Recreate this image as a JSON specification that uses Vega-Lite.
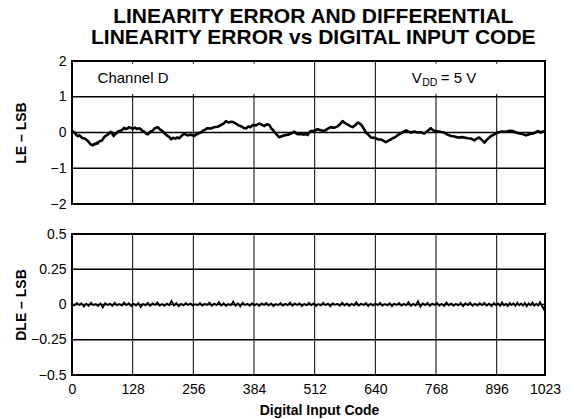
{
  "$schema": "https://vega.github.io/schema/vega-lite/v6.json",
  "background": "white",
  "padding": {"left": 12, "top": 6, "right": 5, "bottom": 0},
  "title": {
    "text": ["LINEARITY ERROR AND DIFFERENTIAL", "LINEARITY ERROR vs DIGITAL INPUT CODE"],
    "font": "Liberation Sans",
    "fontSize": 21,
    "fontWeight": "bold",
    "color": "black",
    "anchor": "middle",
    "lineHeight": 21,
    "offset": 5,
    "dx": 26
  },
  "config": {
    "font": "Liberation Sans",
    "view": {"stroke": "black", "strokeWidth": 2},
    "axis": {
      "grid": false,
      "domain": false,
      "ticks": false,
      "labelColor": "black",
      "labelFont": "Liberation Sans",
      "labelFontSize": 14,
      "labelOverlap": false,
      "titleColor": "black",
      "titleFont": "Liberation Sans",
      "titleFontSize": 14,
      "titleFontWeight": "bold"
    }
  },
  "bounds": "flush",
  "spacing": 30,
  "vconcat": [
    {
      "width": 473,
      "height": 143,
      "layer": [
        {
          "data": {"values": [{"code": 128}, {"code": 256}, {"code": 384}, {"code": 512}, {"code": 640}, {"code": 768}, {"code": 896}]},
          "mark": {"type": "rule", "color": "black", "strokeWidth": 1},
          "encoding": {
            "x": {"field": "code", "type": "quantitative", "title": null,
                  "scale": {"domain": [0, 896, 1023], "range": [0, 424.7, 473], "nice": false, "zero": false},
                  "axis": null}
          }
        },
        {
          "data": {"values": [{"v": -1}, {"v": 0}, {"v": 1}]},
          "mark": {"type": "rule", "color": "black", "strokeWidth": 1.5},
          "encoding": {
            "y": {"field": "v", "type": "quantitative", "title": "LE – LSB",
                  "scale": {"domain": [-2, 2], "nice": false, "zero": false},
                  "axis": {"values": [-2, -1, 0, 1, 2], "tickCount": 5, "labelPadding": 6, "titleX": -47, "titleBaseline": "alphabetic",
                           "labelExpr": "replace(toString(datum.value), '-', '−')"}}
          }
        },
        {
          "data": {"values": [
            {"code": 19, "code2": 392, "v": 1.08, "v2": 1.92},
            {"code": 652, "code2": 902, "v": 1.08, "v2": 1.92}
          ]},
          "mark": {"type": "rect", "fill": "white", "stroke": null},
          "encoding": {
            "x": {"field": "code", "type": "quantitative", "title": null, "axis": null},
            "x2": {"field": "code2"},
            "y": {"field": "v", "type": "quantitative", "title": "LE – LSB"},
            "y2": {"field": "v2"}
          }
        },
        {
          "data": {"values": [
            {"code": 0, "v": 0.03}, {"code": 1, "v": 0.04}, {"code": 3, "v": 0.0}, {"code": 6, "v": 0.0},
            {"code": 9, "v": -0.07}, {"code": 12, "v": -0.1}, {"code": 15, "v": -0.08}, {"code": 19, "v": -0.12},
            {"code": 22, "v": -0.16}, {"code": 26, "v": -0.16}, {"code": 30, "v": -0.2}, {"code": 35, "v": -0.26},
            {"code": 39, "v": -0.33}, {"code": 44, "v": -0.36}, {"code": 47, "v": -0.32}, {"code": 49, "v": -0.33},
            {"code": 52, "v": -0.29}, {"code": 54, "v": -0.31}, {"code": 57, "v": -0.25}, {"code": 60, "v": -0.24},
            {"code": 62, "v": -0.23}, {"code": 65, "v": -0.19}, {"code": 69, "v": -0.11}, {"code": 73, "v": -0.08},
            {"code": 77, "v": -0.04}, {"code": 82, "v": 0.02}, {"code": 85, "v": -0.03}, {"code": 88, "v": -0.1},
            {"code": 91, "v": -0.04}, {"code": 94, "v": -0.02}, {"code": 97, "v": 0.03}, {"code": 100, "v": 0.04},
            {"code": 105, "v": 0.06}, {"code": 110, "v": 0.13}, {"code": 113, "v": 0.1}, {"code": 117, "v": 0.11},
            {"code": 120, "v": 0.15}, {"code": 124, "v": 0.13}, {"code": 128, "v": 0.1}, {"code": 133, "v": 0.14},
            {"code": 137, "v": 0.1}, {"code": 142, "v": 0.12}, {"code": 146, "v": 0.08}, {"code": 149, "v": 0.04},
            {"code": 152, "v": 0.03}, {"code": 155, "v": -0.01}, {"code": 157, "v": -0.04}, {"code": 160, "v": -0.05},
            {"code": 165, "v": 0.02}, {"code": 170, "v": 0.05}, {"code": 175, "v": 0.12}, {"code": 181, "v": 0.15},
            {"code": 186, "v": 0.08}, {"code": 191, "v": 0.04}, {"code": 195, "v": -0.02}, {"code": 200, "v": -0.08},
            {"code": 205, "v": -0.12}, {"code": 209, "v": -0.19}, {"code": 213, "v": -0.15}, {"code": 218, "v": -0.17},
            {"code": 222, "v": -0.14}, {"code": 226, "v": -0.16}, {"code": 231, "v": -0.1}, {"code": 237, "v": -0.03},
            {"code": 240, "v": -0.06}, {"code": 244, "v": -0.08}, {"code": 250, "v": -0.06}, {"code": 258, "v": -0.1},
            {"code": 261, "v": -0.06}, {"code": 265, "v": -0.04}, {"code": 268, "v": -0.01}, {"code": 272, "v": 0.0},
            {"code": 276, "v": 0.05}, {"code": 280, "v": 0.07}, {"code": 283, "v": 0.1}, {"code": 286, "v": 0.12},
            {"code": 293, "v": 0.11}, {"code": 300, "v": 0.15}, {"code": 307, "v": 0.16}, {"code": 314, "v": 0.21},
            {"code": 319, "v": 0.24}, {"code": 325, "v": 0.32}, {"code": 330, "v": 0.28}, {"code": 335, "v": 0.3},
            {"code": 340, "v": 0.29}, {"code": 346, "v": 0.25}, {"code": 350, "v": 0.21}, {"code": 355, "v": 0.18},
            {"code": 359, "v": 0.16}, {"code": 363, "v": 0.12}, {"code": 368, "v": 0.12}, {"code": 372, "v": 0.17},
            {"code": 377, "v": 0.15}, {"code": 381, "v": 0.21}, {"code": 388, "v": 0.2}, {"code": 395, "v": 0.25},
            {"code": 400, "v": 0.22}, {"code": 406, "v": 0.18}, {"code": 410, "v": 0.22}, {"code": 413, "v": 0.23},
            {"code": 417, "v": 0.2}, {"code": 420, "v": 0.12}, {"code": 424, "v": 0.07}, {"code": 428, "v": 0.0},
            {"code": 432, "v": -0.06}, {"code": 437, "v": -0.13}, {"code": 444, "v": -0.1}, {"code": 451, "v": -0.07},
            {"code": 457, "v": -0.06}, {"code": 463, "v": -0.02}, {"code": 469, "v": 0.02}, {"code": 472, "v": -0.01},
            {"code": 476, "v": -0.05}, {"code": 483, "v": -0.04}, {"code": 490, "v": -0.06}, {"code": 494, "v": -0.04},
            {"code": 497, "v": -0.07}, {"code": 500, "v": -0.01}, {"code": 504, "v": 0.04}, {"code": 511, "v": 0.05},
            {"code": 518, "v": 0.09}, {"code": 525, "v": 0.06}, {"code": 532, "v": 0.04}, {"code": 539, "v": 0.1},
            {"code": 546, "v": 0.15}, {"code": 553, "v": 0.13}, {"code": 561, "v": 0.18}, {"code": 566, "v": 0.24},
            {"code": 571, "v": 0.32}, {"code": 576, "v": 0.26}, {"code": 582, "v": 0.22}, {"code": 587, "v": 0.18},
            {"code": 592, "v": 0.15}, {"code": 598, "v": 0.21}, {"code": 603, "v": 0.28}, {"code": 607, "v": 0.25},
            {"code": 610, "v": 0.22}, {"code": 615, "v": 0.12}, {"code": 620, "v": 0.0}, {"code": 625, "v": -0.06},
            {"code": 631, "v": -0.14}, {"code": 638, "v": -0.15}, {"code": 645, "v": -0.19}, {"code": 653, "v": -0.2},
            {"code": 662, "v": -0.27}, {"code": 670, "v": -0.21}, {"code": 677, "v": -0.16}, {"code": 683, "v": -0.12},
            {"code": 690, "v": -0.05}, {"code": 697, "v": 0.0}, {"code": 705, "v": 0.06}, {"code": 710, "v": 0.02},
            {"code": 715, "v": 0.0}, {"code": 722, "v": 0.03}, {"code": 729, "v": 0.0}, {"code": 736, "v": 0.01},
            {"code": 743, "v": -0.03}, {"code": 750, "v": 0.04}, {"code": 757, "v": 0.12}, {"code": 762, "v": 0.06},
            {"code": 768, "v": 0.04}, {"code": 776, "v": 0.02}, {"code": 785, "v": 0.0}, {"code": 792, "v": -0.06},
            {"code": 800, "v": -0.1}, {"code": 807, "v": -0.11}, {"code": 814, "v": -0.14}, {"code": 824, "v": -0.13},
            {"code": 835, "v": -0.16}, {"code": 842, "v": -0.17}, {"code": 849, "v": -0.22}, {"code": 854, "v": -0.17},
            {"code": 859, "v": -0.14}, {"code": 864, "v": -0.2}, {"code": 870, "v": -0.28}, {"code": 877, "v": -0.18},
            {"code": 884, "v": -0.1}, {"code": 891, "v": -0.05}, {"code": 899, "v": 0.0}, {"code": 910, "v": 0.03},
            {"code": 921, "v": 0.02}, {"code": 930, "v": 0.05}, {"code": 938, "v": 0.04}, {"code": 947, "v": 0.0},
            {"code": 956, "v": -0.03}, {"code": 964, "v": -0.04}, {"code": 973, "v": -0.08}, {"code": 982, "v": -0.05},
            {"code": 991, "v": -0.03}, {"code": 998, "v": 0.0}, {"code": 1004, "v": 0.04}, {"code": 1008, "v": 0.02},
            {"code": 1012, "v": 0.0}, {"code": 1018, "v": 0.03}, {"code": 1023, "v": 0.02}
          ]},
          "mark": {"type": "line", "color": "black", "strokeWidth": 2.6, "strokeJoin": "round"},
          "encoding": {
            "x": {"field": "code", "type": "quantitative", "title": null, "axis": null},
            "y": {"field": "v", "type": "quantitative", "title": "LE – LSB"}
          }
        },
        {
          "data": {"values": [{"code": 54, "v": 1.39, "label": "Channel D"}]},
          "mark": {"type": "text", "align": "left", "baseline": "alphabetic", "fontSize": 15, "color": "black"},
          "encoding": {
            "x": {"field": "code", "type": "quantitative", "title": null, "axis": null},
            "y": {"field": "v", "type": "quantitative", "title": "LE – LSB"},
            "text": {"field": "label"}
          }
        },
        {
          "data": {"values": [{"code": 717, "v": 1.39, "label": "V"}, {"code": 778, "v": 1.39, "label": "= 5 V"}]},
          "mark": {"type": "text", "align": "left", "baseline": "alphabetic", "fontSize": 15, "color": "black"},
          "encoding": {
            "x": {"field": "code", "type": "quantitative", "title": null, "axis": null},
            "y": {"field": "v", "type": "quantitative", "title": "LE – LSB"},
            "text": {"field": "label"}
          }
        },
        {
          "data": {"values": [{"code": 739, "v": 1.3, "label": "DD"}]},
          "mark": {"type": "text", "align": "left", "baseline": "alphabetic", "fontSize": 10.5, "color": "black"},
          "encoding": {
            "x": {"field": "code", "type": "quantitative", "title": null, "axis": null},
            "y": {"field": "v", "type": "quantitative", "title": "LE – LSB"},
            "text": {"field": "label"}
          }
        }
      ]
    },
    {
      "width": 473,
      "height": 141,
      "layer": [
        {
          "data": {"values": [{"code": 128}, {"code": 256}, {"code": 384}, {"code": 512}, {"code": 640}, {"code": 768}, {"code": 896}]},
          "mark": {"type": "rule", "color": "black", "strokeWidth": 1},
          "encoding": {
            "x": {"field": "code", "type": "quantitative", "title": "Digital Input Code",
                  "scale": {"domain": [0, 896, 1023], "range": [0, 424.7, 473], "nice": false, "zero": false},
                  "axis": {"values": [0, 128, 256, 384, 512, 640, 768, 896, 1023], "tickCount": 9, "format": "d",
                           "labelPadding": 7, "labelDx": 3, "labelFlush": false, "titlePadding": 7, "titleX": 247}}
          }
        },
        {
          "data": {"values": [{"v": -0.25}, {"v": 0}, {"v": 0.25}]},
          "mark": {"type": "rule", "color": "black", "strokeWidth": 1.5},
          "encoding": {
            "y": {"field": "v", "type": "quantitative", "title": "DLE – LSB",
                  "scale": {"domain": [-0.5, 0.5], "nice": false, "zero": false},
                  "axis": {"values": [-0.5, -0.25, 0, 0.25, 0.5], "tickCount": 5, "labelPadding": 6, "titleX": -47, "titleBaseline": "alphabetic",
                           "labelExpr": "replace(toString(datum.value), '-', '−')"}}
          }
        },
        {
          "data": {"values": [
            {"code": 0, "v": 0.005}, {"code": 5, "v": -0.008}, {"code": 10, "v": 0.012}, {"code": 15, "v": -0.003},
            {"code": 20, "v": 0.009}, {"code": 25, "v": -0.015}, {"code": 30, "v": 0.006}, {"code": 35, "v": -0.01},
            {"code": 40, "v": 0.014}, {"code": 45, "v": -0.006}, {"code": 50, "v": 0.003}, {"code": 55, "v": -0.012},
            {"code": 60, "v": 0.008}, {"code": 65, "v": -0.022}, {"code": 70, "v": 0.01}, {"code": 75, "v": -0.004},
            {"code": 80, "v": 0.007}, {"code": 85, "v": -0.011}, {"code": 90, "v": 0.013}, {"code": 95, "v": -0.007},
            {"code": 100, "v": 0.004}, {"code": 105, "v": -0.009}, {"code": 110, "v": 0.016}, {"code": 115, "v": -0.005},
            {"code": 120, "v": 0.009}, {"code": 125, "v": -0.013}, {"code": 130, "v": 0.006}, {"code": 135, "v": -0.008},
            {"code": 140, "v": 0.011}, {"code": 145, "v": -0.02}, {"code": 150, "v": 0.005}, {"code": 155, "v": -0.006},
            {"code": 160, "v": 0.012}, {"code": 165, "v": -0.01}, {"code": 170, "v": 0.008}, {"code": 175, "v": -0.003},
            {"code": 180, "v": 0.015}, {"code": 185, "v": -0.009}, {"code": 190, "v": 0.004}, {"code": 195, "v": -0.012},
            {"code": 200, "v": 0.007}, {"code": 205, "v": -0.005}, {"code": 210, "v": 0.026}, {"code": 215, "v": -0.008},
            {"code": 220, "v": 0.01}, {"code": 225, "v": -0.014}, {"code": 230, "v": 0.005}, {"code": 235, "v": -0.007},
            {"code": 240, "v": 0.012}, {"code": 245, "v": -0.004}, {"code": 250, "v": 0.008}, {"code": 255, "v": -0.01},
            {"code": 260, "v": 0.003}, {"code": 265, "v": -0.006}, {"code": 270, "v": 0.011}, {"code": 275, "v": -0.009},
            {"code": 280, "v": 0.006}, {"code": 285, "v": -0.003}, {"code": 290, "v": 0.014}, {"code": 295, "v": -0.011},
            {"code": 300, "v": 0.007}, {"code": 305, "v": -0.005}, {"code": 310, "v": 0.018}, {"code": 315, "v": -0.008},
            {"code": 320, "v": 0.009}, {"code": 325, "v": -0.012}, {"code": 330, "v": 0.004}, {"code": 335, "v": -0.006},
            {"code": 340, "v": 0.022}, {"code": 345, "v": -0.01}, {"code": 350, "v": 0.008}, {"code": 355, "v": -0.015},
            {"code": 360, "v": 0.013}, {"code": 365, "v": -0.004}, {"code": 370, "v": 0.006}, {"code": 375, "v": -0.009},
            {"code": 380, "v": 0.01}, {"code": 385, "v": -0.007}, {"code": 390, "v": 0.005}, {"code": 395, "v": -0.011},
            {"code": 400, "v": 0.009}, {"code": 405, "v": -0.003}, {"code": 410, "v": 0.012}, {"code": 415, "v": -0.008},
            {"code": 420, "v": 0.007}, {"code": 425, "v": -0.013}, {"code": 430, "v": 0.004}, {"code": 435, "v": -0.006},
            {"code": 440, "v": 0.011}, {"code": 445, "v": -0.009}, {"code": 450, "v": 0.006}, {"code": 455, "v": -0.005},
            {"code": 460, "v": 0.015}, {"code": 465, "v": -0.01}, {"code": 470, "v": 0.008}, {"code": 475, "v": -0.004},
            {"code": 480, "v": 0.01}, {"code": 485, "v": -0.012}, {"code": 490, "v": 0.005}, {"code": 495, "v": -0.007},
            {"code": 500, "v": 0.013}, {"code": 505, "v": -0.006}, {"code": 510, "v": 0.009}, {"code": 515, "v": -0.011},
            {"code": 520, "v": 0.004}, {"code": 525, "v": -0.008}, {"code": 530, "v": 0.012}, {"code": 535, "v": -0.005},
            {"code": 540, "v": 0.007}, {"code": 545, "v": -0.014}, {"code": 550, "v": 0.01}, {"code": 555, "v": -0.003},
            {"code": 560, "v": 0.006}, {"code": 565, "v": -0.009}, {"code": 570, "v": 0.014}, {"code": 575, "v": -0.007},
            {"code": 580, "v": 0.008}, {"code": 585, "v": -0.011}, {"code": 590, "v": 0.005}, {"code": 595, "v": -0.006},
            {"code": 600, "v": 0.016}, {"code": 605, "v": -0.009}, {"code": 610, "v": 0.007}, {"code": 615, "v": -0.004},
            {"code": 620, "v": 0.011}, {"code": 625, "v": -0.012}, {"code": 630, "v": 0.006}, {"code": 635, "v": -0.008},
            {"code": 640, "v": 0.009}, {"code": 645, "v": -0.005}, {"code": 650, "v": 0.013}, {"code": 655, "v": -0.01},
            {"code": 660, "v": 0.004}, {"code": 665, "v": -0.007}, {"code": 670, "v": 0.01}, {"code": 675, "v": -0.013},
            {"code": 680, "v": 0.007}, {"code": 685, "v": -0.004}, {"code": 690, "v": 0.012}, {"code": 695, "v": -0.009},
            {"code": 700, "v": 0.006}, {"code": 705, "v": -0.006}, {"code": 710, "v": 0.018}, {"code": 715, "v": -0.011},
            {"code": 720, "v": 0.005}, {"code": 725, "v": -0.008}, {"code": 730, "v": 0.024}, {"code": 735, "v": -0.016},
            {"code": 740, "v": 0.009}, {"code": 745, "v": -0.005}, {"code": 750, "v": 0.013}, {"code": 755, "v": -0.01},
            {"code": 760, "v": 0.007}, {"code": 765, "v": -0.003}, {"code": 770, "v": 0.011}, {"code": 775, "v": -0.009},
            {"code": 780, "v": 0.006}, {"code": 785, "v": -0.012}, {"code": 790, "v": 0.015}, {"code": 795, "v": -0.006},
            {"code": 800, "v": 0.008}, {"code": 805, "v": -0.01}, {"code": 810, "v": 0.005}, {"code": 815, "v": -0.007},
            {"code": 820, "v": 0.012}, {"code": 825, "v": -0.013}, {"code": 830, "v": 0.009}, {"code": 835, "v": -0.004},
            {"code": 840, "v": 0.014}, {"code": 845, "v": -0.011}, {"code": 850, "v": 0.006}, {"code": 855, "v": -0.008},
            {"code": 860, "v": 0.01}, {"code": 865, "v": -0.005}, {"code": 870, "v": 0.013}, {"code": 875, "v": -0.009},
            {"code": 880, "v": 0.007}, {"code": 885, "v": -0.012}, {"code": 890, "v": 0.011}, {"code": 895, "v": -0.006},
            {"code": 900, "v": 0.008}, {"code": 905, "v": -0.01}, {"code": 910, "v": 0.016}, {"code": 915, "v": -0.007},
            {"code": 920, "v": 0.005}, {"code": 925, "v": -0.013}, {"code": 930, "v": 0.012}, {"code": 935, "v": -0.004},
            {"code": 940, "v": 0.009}, {"code": 945, "v": -0.011}, {"code": 950, "v": 0.014}, {"code": 955, "v": -0.006},
            {"code": 960, "v": 0.007}, {"code": 965, "v": -0.009}, {"code": 970, "v": 0.012}, {"code": 975, "v": -0.014},
            {"code": 980, "v": 0.008}, {"code": 985, "v": -0.005}, {"code": 990, "v": 0.015}, {"code": 995, "v": -0.01},
            {"code": 1000, "v": 0.006}, {"code": 1005, "v": -0.008}, {"code": 1010, "v": 0.017}, {"code": 1015, "v": -0.012},
            {"code": 1020, "v": -0.035}, {"code": 1023, "v": 0.004}
          ]},
          "mark": {"type": "line", "color": "black", "strokeWidth": 1.6},
          "encoding": {
            "x": {"field": "code", "type": "quantitative", "title": "Digital Input Code"},
            "y": {"field": "v", "type": "quantitative", "title": "DLE – LSB"}
          }
        }
      ]
    }
  ]
}
